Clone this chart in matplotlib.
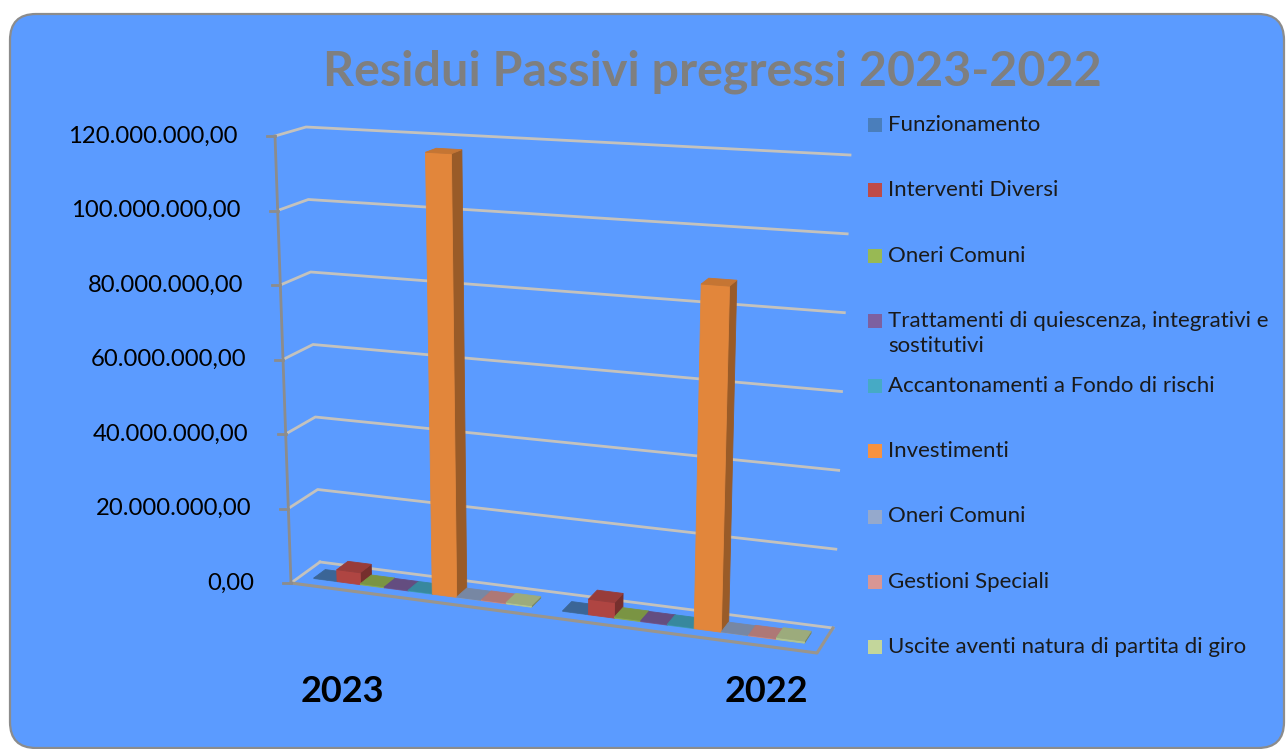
import matplotlib
matplotlib.use('Agg')
import matplotlib.pyplot as plt
from matplotlib.patches import Polygon, FancyBboxPatch, Rectangle
import numpy as np

plt.rcParams['font.family'] = ['Lato', 'DejaVu Sans']

# dati
anni = ['2023', '2022']
voci = ['Funzionamento', 'Interventi Diversi', 'Oneri Comuni',
        'Trattamenti di quiescenza, integrativi e\nsostitutivi',
        'Accantonamenti a Fondo di rischi', 'Investimenti', 'Oneri Comuni',
        'Gestioni Speciali', 'Uscite aventi natura di partita di giro']
residui_2023 = [0.15e6, 3.2e6, 0.3e6, 0.2e6, 0.2e6, 117.0e6, 0.1e6, 0.2e6, 0.4e6]
residui_2022 = [0.15e6, 4.0e6, 0.3e6, 0.2e6, 0.2e6, 87.5e6, 0.1e6, 0.2e6, 0.5e6]
colori = ['#4a7ebb', '#be4b48', '#98b954', '#7d60a0', '#46aac5',
          '#f69240', '#95a9cc', '#d99694', '#c3d69b']
tick_valori = np.arange(0, 120e6 + 1, 20e6)
vmax = 120e6

W, H = 1286, 749
fig = plt.figure(figsize=(W / 100, H / 100), dpi=100)
ax = fig.add_axes([0, 0, 1, 1])
ax.set_xlim(0, W)
ax.set_ylim(H, 0)
ax.axis('off')

# area del grafico
ax.add_patch(FancyBboxPatch((10, 14), 1274, 734,
                            boxstyle='round,pad=0,rounding_size=26',
                            fc='#5b9bff', ec='#8c8c8c', lw=1.6, zorder=0))

# vertici della scatola 3D: [sinistra/destra][fronte/retro][basso/alto]
C = np.zeros((2, 2, 2, 2))
C[0, 0, 0] = (291, 583); C[0, 0, 1] = (275, 136)
C[0, 1, 0] = (320, 562); C[0, 1, 1] = (306, 127)
C[1, 0, 0] = (817, 653); C[1, 0, 1] = (835, 167)
C[1, 1, 0] = (833, 628); C[1, 1, 1] = (850, 155)
K = 0.1


def proj(u, d, v):
    s = u * (1 - K) / (1 - K * u)
    t = v / vmax
    p = np.zeros(2)
    for i, wi in ((0, 1 - s), (1, s)):
        for j, wj in ((0, 1 - d), (1, d)):
            for k, wk in ((0, 1 - t), (1, t)):
                p += wi * wj * wk * C[i, j, k]
    return p


# pavimento
col_grid = '#c4c2bd'
col_axis = '#9a958c'
ax.plot(*zip(proj(0, 1, 0), proj(1, 1, 0)), color=col_grid, lw=2, zorder=1)
ax.plot(*zip(proj(0, 0, 0), proj(0, 1, 0)), color=col_grid, lw=2, zorder=1)
ax.plot(*zip(proj(0, 0, 0), proj(1, 0, 0), proj(1, 1, 0)),
        color=col_axis, lw=2.2, zorder=1)

# griglia, asse verticale ed etichette
for v in tick_valori:
    a, b, c = proj(0, 0, v), proj(0, 1, v), proj(1, 1, v)
    if v > 0:
        ax.plot([a[0], b[0], c[0]], [a[1], b[1], c[1]], color=col_grid, lw=2, zorder=1)
    ax.plot([a[0] - 8, a[0]], [a[1], a[1]], color='#8c8c8c', lw=2, zorder=2)
    lab = f'{v:,.2f}'.replace(',', 'X').replace('.', ',').replace('X', '.')
    ax.text(a[0] - 37, a[1], lab, ha='right', va='center', fontsize=17.2, color='black')
ax.plot(*zip(proj(0, 0, 0), proj(0, 0, vmax)), color='#8c8c8c', lw=2, zorder=2)


def shade(c, f):
    r = np.array(matplotlib.colors.to_rgb(c)) * f
    return tuple(np.clip(r, 0, 1))


# colonne
h = 0.03
w = (0.5 - 2 * h) / len(voci)
d0, d1 = 0.3, 0.7
for g, valori in enumerate([residui_2023, residui_2022]):
    for i, v in enumerate(valori):
        u0 = g * 0.5 + h + i * w
        u1 = u0 + w
        col = colori[i]
        front = [proj(u0, d0, 0), proj(u1, d0, 0), proj(u1, d0, v), proj(u0, d0, v)]
        side = [proj(u1, d0, 0), proj(u1, d1, 0), proj(u1, d1, v), proj(u1, d0, v)]
        top = [proj(u0, d0, v), proj(u1, d0, v), proj(u1, d1, v), proj(u0, d1, v)]
        for poly, f in ((side, 0.62), (front, 0.92), (top, 0.8)):
            fc = shade(col, f)
            ax.add_patch(Polygon(poly, closed=True, fc=fc, ec=fc, lw=0.6, zorder=3))

# etichette delle categorie
for x, anno in zip([342, 766], anni):
    ax.text(x, 692, anno, ha='center', va='center', fontsize=26,
            fontweight='bold', color='black')

# titolo
ax.text(712, 72, 'Residui Passivi pregressi 2023-2022', ha='center', va='center',
        fontsize=34.8, fontweight='bold', color='#7f7f7f')

# legenda
for y, nome, col in zip(np.linspace(125, 647, len(voci)), voci, colori):
    ax.add_patch(Rectangle((868, y - 7), 14, 14, fc=col, ec='none', zorder=4))
    ax.text(888, y - 10, nome, ha='left', va='top', fontsize=16,
            color='#1a1a1a', linespacing=1.3)

fig.savefig('out.png', dpi=100, facecolor='white')
